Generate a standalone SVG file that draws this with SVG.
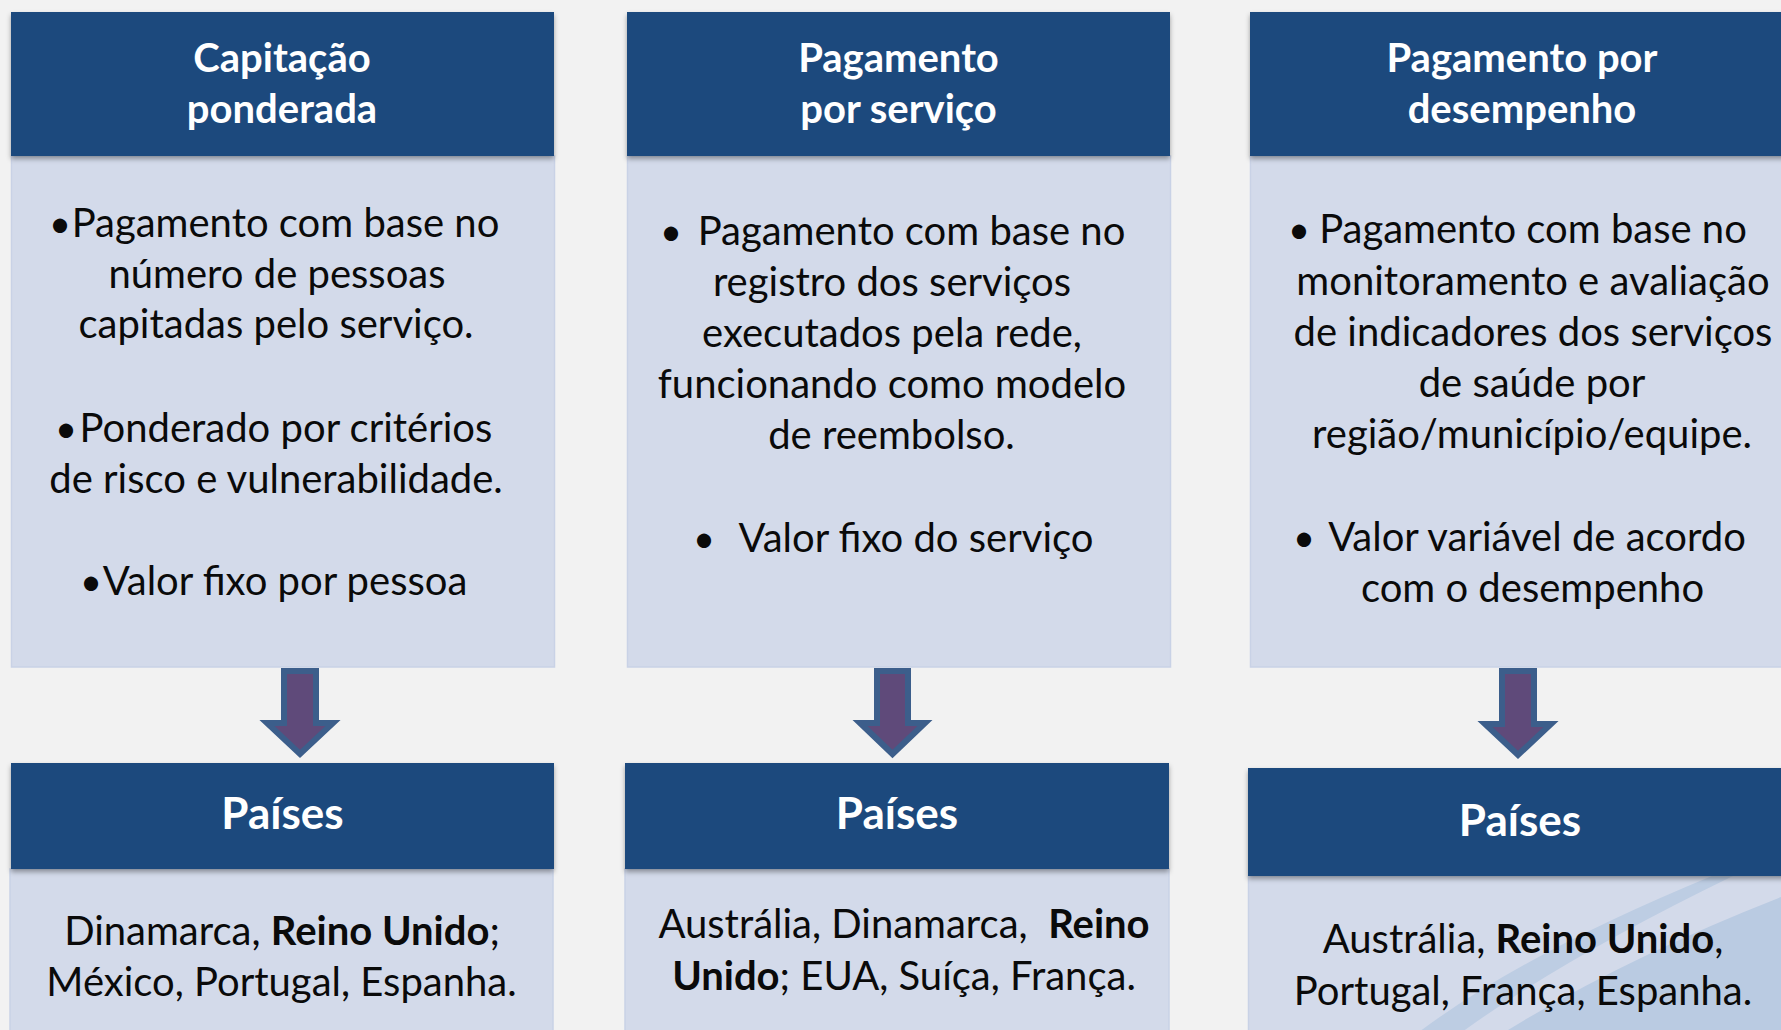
<svg xmlns="http://www.w3.org/2000/svg" width="1781" height="1030" viewBox="0 0 1781 1030">
<defs>
<style>
.hdr{fill:#1F497D;}
.body{fill:#D3DAEA;stroke:#C9D2E6;stroke-width:1.5;}
.ht{font-family:Lato,"Open Sans","Liberation Sans",sans-serif;font-weight:700;font-size:40px;fill:#FFFFFF;text-anchor:middle;}
.pt{font-family:Lato,"Open Sans","Liberation Sans",sans-serif;font-weight:700;font-size:44px;fill:#FFFFFF;text-anchor:middle;}
.bt{font-family:Lato,"Open Sans","Liberation Sans",sans-serif;font-size:40px;fill:#0A0A0A;text-anchor:middle;}
.bl{font-family:Lato,"Open Sans","Liberation Sans",sans-serif;font-size:38px;fill:#0A0A0A;text-anchor:start;}
.b{font-weight:700;}
.arrow{fill:#5F4A7A;stroke:#3C5E8B;stroke-width:6;stroke-linejoin:miter;}
</style>
<filter id="sh" x="-5%" y="-10%" width="110%" height="130%">
<feDropShadow dx="0" dy="3" stdDeviation="2.5" flood-color="#000" flood-opacity="0.35"/>
</filter>
<clipPath id="c3b"><rect x="1248" y="876" width="533" height="154"/></clipPath>
</defs>
<rect x="0" y="0" width="1781" height="1030" fill="#F2F2F2"/>

<g id="col1-desc">
<rect class="body" x="11.5" y="156" width="543" height="511"/>
<text class="bl" x="49" y="237">•</text>
<text class="bt" x="285.5" y="237">Pagamento com base no</text>
<text class="bt" x="277" y="288">número de pessoas</text>
<text class="bt" x="276" y="338">capitadas pelo serviço.</text>
<text class="bl" x="55" y="442">•</text>
<text class="bt" x="286" y="442">Ponderado por critérios</text>
<text class="bt" x="276" y="493">de risco e vulnerabilidade.</text>
<text class="bl" x="80" y="595">•</text>
<text class="bt" x="285" y="595">Valor fixo por pessoa</text>
</g>
<g id="col1-header">
<rect class="hdr" x="11" y="12" width="543" height="144" filter="url(#sh)"/>
<text class="ht" x="282" y="72">Capitação</text>
<text class="ht" x="282" y="123">ponderada</text>
</g>

<g id="col2-desc">
<rect class="body" x="627.5" y="156" width="543" height="511"/>
<text class="bl" x="660" y="245">•</text>
<text class="bt" x="911.5" y="245">Pagamento com base no</text>
<text class="bt" x="892" y="296">registro dos serviços</text>
<text class="bt" x="892" y="347">executados pela rede,</text>
<text class="bt" x="892" y="398">funcionando como modelo</text>
<text class="bt" x="891.5" y="449">de reembolso.</text>
<text class="bl" x="693" y="552">•</text>
<text class="bt" x="916" y="552">Valor fixo do serviço</text>
</g>
<g id="col2-header">
<rect class="hdr" x="627" y="12" width="543" height="144" filter="url(#sh)"/>
<text class="ht" x="898.5" y="72">Pagamento</text>
<text class="ht" x="898.5" y="123">por serviço</text>
</g>

<g id="col3-desc">
<rect class="body" x="1250.5" y="156" width="540" height="511"/>
<text class="bl" x="1288" y="243">•</text>
<text class="bt" x="1533" y="243">Pagamento com base no</text>
<text class="bt" x="1533" y="295">monitoramento e avaliação</text>
<text class="bt" x="1533" y="346">de indicadores dos serviços</text>
<text class="bt" x="1532" y="397">de saúde por</text>
<text class="bt" x="1532" y="448">região/município/equipe.</text>
<text class="bl" x="1293" y="551">•</text>
<text class="bt" x="1537" y="551">Valor variável de acordo</text>
<text class="bt" x="1532.5" y="602">com o desempenho</text>
</g>
<g id="col3-header">
<rect class="hdr" x="1250" y="12" width="540" height="144" filter="url(#sh)"/>
<text class="ht" x="1522" y="72">Pagamento por</text>
<text class="ht" x="1522" y="123">desempenho</text>
</g>

<g id="connectors">
<path class="arrow" d="M284,671 L316,671 L316,723 L333,723 L300,754 L267,723 L284,723 Z"/>
<path class="arrow" d="M877,671 L908,671 L908,723 L925,723 L892.5,754 L860,723 L877,723 Z"/>
<path class="arrow" d="M1502,671 L1534,671 L1534,724 L1551,724 L1518,755 L1485,724 L1502,724 Z"/>
</g>

<g id="col1-countries">
<rect class="body" x="10" y="869" width="543" height="170"/>
<text class="bt" x="282" y="945">Dinamarca, <tspan class="b">Reino Unido</tspan>;</text>
<text class="bt" x="281.5" y="996">México, Portugal, Espanha.</text>
<rect class="hdr" x="11" y="763" width="543" height="106" filter="url(#sh)"/>
<text class="pt" x="282.5" y="829">Países</text>
</g>

<g id="col2-countries">
<rect class="body" x="625" y="869" width="544" height="170"/>
<text class="bt" x="904" y="938" xml:space="preserve">Austrália, Dinamarca,  <tspan class="b">Reino</tspan></text>
<text class="bt" x="904" y="990"><tspan class="b">Unido</tspan>; EUA, Suíça, França.</text>
<rect class="hdr" x="625" y="763" width="544" height="106" filter="url(#sh)"/>
<text class="pt" x="897" y="829">Países</text>
</g>

<g id="col3-countries">
<rect class="body" x="1248.5" y="876" width="540" height="170"/>
<g clip-path="url(#c3b)">
<path d="M1733,876 Q1560,960 1458,1035 L1415,1035 Q1520,955 1712,876 Z" fill="#BDCDE3"/>
<path d="M1781,897 Q1620,960 1500,1035 L1781,1035 Z" fill="#BACBE2"/>
</g>
<text class="bt" x="1523" y="953">Austrália, <tspan class="b">Reino Unido</tspan>,</text>
<text class="bt" x="1523" y="1005">Portugal, França, Espanha.</text>
<rect class="hdr" x="1248" y="768" width="540" height="108" filter="url(#sh)"/>
<text class="pt" x="1520" y="836">Países</text>
</g>
</svg>
